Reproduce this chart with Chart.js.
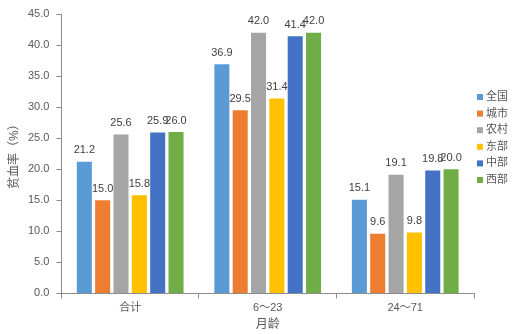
<!DOCTYPE html>
<html>
<head>
<meta charset="utf-8">
<script src="https://cdn.jsdelivr.net/npm/chart.js@4"></script>
<style>
  html, body { margin: 0; padding: 0; background: #fff; }
  #wrap { width: 522px; height: 334px; }
</style>
</head>
<body>
<div id="wrap"><canvas id="anemiaChart"></canvas></div>
<script>
const ageGroups = ['合计', '6～23', '24～71'];
const regionNames = ['全国', '城市', '农村', '东部', '中部', '西部'];
const regionColors = ['#5b9bd5', '#ed7d31', '#a5a5a5', '#ffc000', '#4472c4', '#70ad47'];

const national = [21.2, 36.9, 15.1];
const urban = [15.0, 29.5, 9.6];
const rural = [25.6, 42.0, 19.1];
const eastern = [15.8, 31.4, 9.8];
const central = [25.9, 41.4, 19.8];
const western = [26.0, 42.0, 20.0];

const yTicks = [0, 5, 10, 15, 20, 25, 30, 35, 40, 45];

const FONT = "'Liberation Sans', 'Noto Sans CJK SC', sans-serif";
const TEXT_COLOR = '#595959';
const AXIS_COLOR = '#8c8c8c';

// value labels above each bar
const barLabels = {
    id: 'barLabels',
    afterDatasetsDraw(chart) {
        const ctx = chart.ctx;
        ctx.save();
        ctx.font = '11px ' + FONT;
        ctx.fillStyle = '#404040';
        ctx.textAlign = 'center';
        ctx.textBaseline = 'bottom';
        chart.data.datasets.forEach((ds, i) => {
            chart.getDatasetMeta(i).data.forEach((bar, j) => {
                ctx.fillText(ds.data[j].toFixed(1), bar.x, bar.y - 6);
            });
        });
        ctx.restore();
    }
};

// compact legend just right of the plot area
const sideLegend = {
    id: 'sideLegend',
    afterDraw(chart) {
        const ctx = chart.ctx;
        const x = chart.chartArea.right + 3;
        let y = 97;
        ctx.save();
        ctx.font = '11px ' + FONT;
        ctx.textBaseline = 'middle';
        ctx.textAlign = 'left';
        chart.data.datasets.forEach(ds => {
            ctx.fillStyle = ds.backgroundColor;
            ctx.fillRect(x, y - 3, 6, 6);
            ctx.fillStyle = TEXT_COLOR;
            ctx.fillText(ds.label, x + 9, y);
            y += 16.6;
        });
        ctx.restore();
    }
};

const seriesValues = [national, urban, rural, eastern, central, western];

new Chart(document.getElementById('anemiaChart'), {
    type: 'bar',
    data: {
        labels: ageGroups,
        datasets: regionNames.map((name, i) => ({
            label: name,
            data: seriesValues[i],
            backgroundColor: regionColors[i],
            categoryPercentage: 0.8,
            barPercentage: 0.82
        }))
    },
    options: {
        responsive: true,
        maintainAspectRatio: false,
        animation: false,
        layout: { padding: { top: 14, right: 48, left: 0, bottom: 0 } },
        plugins: {
            tooltip: { enabled: false },
            legend: { display: false }
        },
        scales: {
            x: {
                grid: { drawOnChartArea: false, offset: true, tickLength: 5, color: AXIS_COLOR },
                border: { color: AXIS_COLOR },
                ticks: { color: TEXT_COLOR, font: { family: FONT, size: 11 }, padding: 3 },
                title: { display: true, text: '月龄', color: TEXT_COLOR, font: { family: FONT, size: 12 }, padding: { top: 0, bottom: 2 } }
            },
            y: {
                min: 0,
                max: 45,
                afterBuildTicks: axis => { axis.ticks = yTicks.map(v => ({ value: v })); },
                grid: { drawOnChartArea: false, tickLength: 5, color: AXIS_COLOR },
                border: { color: AXIS_COLOR },
                ticks: {
                    color: TEXT_COLOR,
                    font: { family: FONT, size: 11 },
                    padding: 7,
                    callback: v => v.toFixed(1)
                },
                title: { display: true, text: '贫血率（%）', color: TEXT_COLOR, font: { family: FONT, size: 12, lineHeight: 1 }, padding: { top: 9, bottom: 0 } }
            }
        }
    },
    plugins: [barLabels, sideLegend]
});
</script>
</body>
</html>
